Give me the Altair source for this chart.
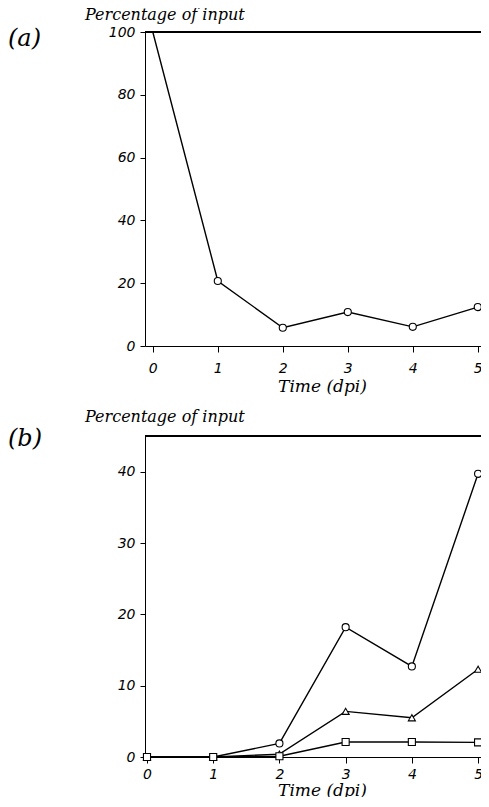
import altair as alt
import pandas as pd

days = [0, 1, 2, 3, 4, 5]
a_values = [100, 20.7, 5.8, 10.8, 6.1, 12.4]
b_circle = [0, 0, 1.9, 18.2, 12.7, 39.7]
b_triangle = [0, 0, 0.4, 6.4, 5.5, 12.3]
b_square = [0, 0, 0.1, 2.1, 2.1, 2.05]
a_ticks = [0, 20, 40, 60, 80, 100]
b_ticks = [0, 10, 20, 30, 40]

W = 345
HA = 314
HB = 321
SERIF = "DejaVu Serif"
SANS = "DejaVu Sans"

df_a = pd.DataFrame({"day": days, "pct": a_values})
df_a_pts = df_a[df_a["day"] > 0]

rows = []
for d, c, t, s in zip(days, b_circle, b_triangle, b_square):
    rows.append({"day": d, "pct": c, "series": "circle"})
    rows.append({"day": d, "pct": t, "series": "triangle"})
    rows.append({"day": d, "pct": s, "series": "square"})
df_b = pd.DataFrame(rows)


def xaxis(label_pad, title_pad):
    return alt.Axis(
        values=days, title="Time (dpi)", titleFont=SERIF, titleFontStyle="italic",
        titleFontWeight="normal", titleFontSize=17, titleColor="black",
        titlePadding=title_pad, labelFont=SANS, labelFontStyle="italic", labelFontSize=14,
        labelColor="black", labelPadding=label_pad, tickSize=6, tickColor="black",
        domainColor="black", grid=False, labelFlush=False, titleX=177,
    )


def yaxis(vals):
    return alt.Axis(
        values=vals, title=None, labelFont=SANS, labelFontStyle="italic",
        labelFontSize=14, labelColor="black", labelPadding=5, tickSize=5,
        tickColor="black", domainColor="black", grid=False,
    )


def ttl():
    return alt.TitleParams(
        "Percentage of input", anchor="start", frame="group", dx=-60, font=SERIF,
        fontStyle="italic", fontWeight="normal", fontSize=16, color="black",
        offset=2,
    )


xa = alt.X("day:Q", scale=alt.Scale(domain=[-0.12, 5.188], nice=False, zero=False), axis=xaxis(9, 3))
ya = alt.Y("pct:Q", scale=alt.Scale(domain=[0, 100], nice=False), axis=yaxis(a_ticks))

line_a = alt.Chart(df_a).mark_line(color="black", strokeWidth=1.4, clip=True).encode(x=xa, y=ya)
pts_a = alt.Chart(df_a_pts).mark_point(shape="circle", size=50, filled=True, fill="white",
                                        stroke="black", strokeWidth=1.1, opacity=1).encode(x=xa, y=ya)
top_a = alt.Chart(df_a).mark_rule(color="black", strokeWidth=1.4).encode(
    x=alt.value(0), x2=alt.value(W), y=alt.value(0))
lab_a = alt.Chart(pd.DataFrame({"t": ["(a)"]})).mark_text(
    font=SERIF, fontStyle="italic", fontSize=24, align="left", baseline="middle", color="black"
).encode(text="t:N", x=alt.value(-137), y=alt.value(7))

panel_a = alt.layer(top_a, line_a, pts_a, lab_a).properties(width=W, height=HA, title=ttl())

xb = alt.X("day:Q", scale=alt.Scale(domain=[-0.03, 5.18], nice=False, zero=False), axis=xaxis(4, 1))
yb = alt.Y("pct:Q", scale=alt.Scale(domain=[0, 45], nice=False), axis=yaxis(b_ticks))

line_b = alt.Chart(df_b).mark_line(color="black", strokeWidth=1.4).encode(
    x=xb, y=yb, detail="series:N")
pts_b = alt.Chart(df_b).mark_point(size=50, filled=True, fill="white", stroke="black",
                                   strokeWidth=1.1, opacity=1).encode(
    x=xb, y=yb,
    shape=alt.Shape("series:N", scale=alt.Scale(domain=["circle", "triangle", "square"],
                                                range=["circle", "triangle-up", "square"]),
                    legend=None))
top_b = alt.Chart(df_b).mark_rule(color="black", strokeWidth=1.4).encode(
    x=alt.value(0), x2=alt.value(W), y=alt.value(0))
lab_b = alt.Chart(pd.DataFrame({"t": ["(b)"]})).mark_text(
    font=SERIF, fontStyle="italic", fontSize=24, align="left", baseline="middle", color="black"
).encode(text="t:N", x=alt.value(-137), y=alt.value(3))

panel_b = alt.layer(top_b, line_b, pts_b, lab_b).properties(width=W, height=HB, title=ttl())

chart = alt.vconcat(panel_a, panel_b, spacing=15).configure_view(stroke=None).properties(
    padding={"left": 0, "top": -1, "right": -10, "bottom": -1}, background="white")

chart.save("out.html", embed_options={"renderer": "svg", "actions": False})
